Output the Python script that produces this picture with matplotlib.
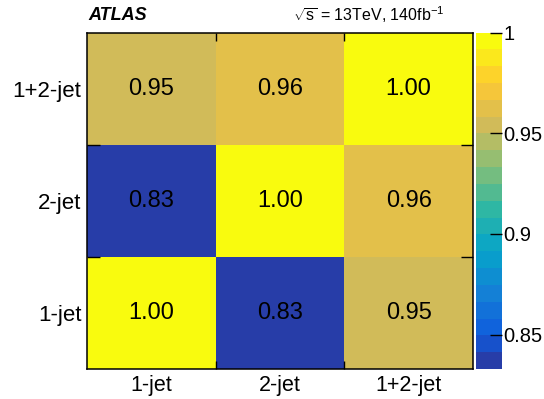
import numpy as np
import matplotlib
matplotlib.use("Agg")
import matplotlib.pyplot as plt
from matplotlib.colors import LinearSegmentedColormap, ListedColormap, BoundaryNorm

plt.rcParams['font.family'] = ['Liberation Sans', 'DejaVu Sans']
plt.rcParams['mathtext.fontset'] = 'custom'
plt.rcParams['mathtext.rm'] = 'Liberation Sans'
plt.rcParams['mathtext.it'] = 'Liberation Sans:italic'

# data
categories = ['1-jet', '2-jet', '1+2-jet']
# corr[row][col], row 0 = bottom (1-jet)
corr = np.array([
    [1.00, 0.833, 0.95],
    [0.833, 1.00, 0.96],
    [0.95, 0.96, 1.00],
])
cbar_ticks = [0.85, 0.9, 0.95, 1.0]
cbar_ticklabels = ['0.85', '0.9', '0.95', '1']

# ROOT kBird palette, 255 colours, sampled like THistPainter does for 20 contours
stops = [0.0, 0.125, 0.25, 0.375, 0.5, 0.625, 0.75, 0.875, 1.0]
red = [0.2082, 0.0592, 0.0780, 0.0232, 0.1802, 0.5301, 0.8186, 0.9956, 0.9764]
green = [0.1664, 0.3599, 0.5041, 0.6419, 0.7178, 0.7492, 0.7328, 0.7862, 0.9832]
blue = [0.5293, 0.8684, 0.8385, 0.7914, 0.6425, 0.4662, 0.3499, 0.1968, 0.0539]
bird = LinearSegmentedColormap.from_list(
    'bird', [(s, (r, g, b)) for s, r, g, b in zip(stops, red, green, blue)], N=255)
ncont = 20
band_cols = [bird(int((i + 0.99) * 255 / ncont)) for i in range(ncont)]
cmap = ListedColormap(band_cols)

zmin, zmax = corr.min(), corr.max()
levels = np.linspace(zmin, zmax, ncont + 1)
norm = BoundaryNorm(levels, ncont)

fig = plt.figure(figsize=(5.44, 3.99), dpi=100)
ax = fig.add_axes([87 / 544, 1 - 369 / 399, 386 / 544, 336.5 / 399])
cax = fig.add_axes([476 / 544, 1 - 369 / 399, 26 / 544, 336.5 / 399])

n = len(categories)
edges = np.arange(n + 1)
mesh = ax.pcolormesh(edges, edges, corr, cmap=cmap, norm=norm, edgecolors='none')

for i in range(n):
    for j in range(n):
        ax.text(j + 0.5, i + 0.5, f'{corr[i, j]:.2f}', ha='center', va='center',
                fontsize=17, color='black')

ax.set_xlim(0, n)
ax.set_ylim(0, n)
ax.set_xticks(edges[1:-1])
ax.set_yticks(edges[1:-1])
ax.set_xticklabels([])
ax.set_yticklabels([])
ax.tick_params(axis='x', direction='in', length=6, width=1, top=True, bottom=True)
ax.tick_params(axis='y', direction='in', length=9, width=1, left=True, right=True)
ax.set_xticks(edges[:-1] + 0.5, minor=True)
ax.set_yticks(edges[:-1] + 0.5, minor=True)
ax.set_xticklabels(categories, minor=True, fontsize=15.5)
ax.set_yticklabels(categories, minor=True, fontsize=16)
ax.tick_params(which='minor', length=0, pad=4)
for sp in ax.spines.values():
    sp.set_linewidth(1.1)

cb = fig.colorbar(mesh, cax=cax, ticks=cbar_ticks)
cb.ax.set_yticklabels(cbar_ticklabels, fontsize=14.5)
cb.ax.tick_params(direction='in', length=9, width=1, pad=1)
cb.ax.minorticks_off()
cb.outline.set_visible(False)

fig.text(88 / 544, 1 - 15 / 399, 'ATLAS', fontsize=13, fontweight='bold',
         fontstyle='italic', ha='left', va='center')
fig.text(444 / 544, 1 - 15 / 399, r'$\sqrt{\mathrm{s}}$ = 13TeV, 140fb$^{-1}$',
         fontsize=11.5, ha='right', va='center')

fig.savefig('out.png', dpi=100)
